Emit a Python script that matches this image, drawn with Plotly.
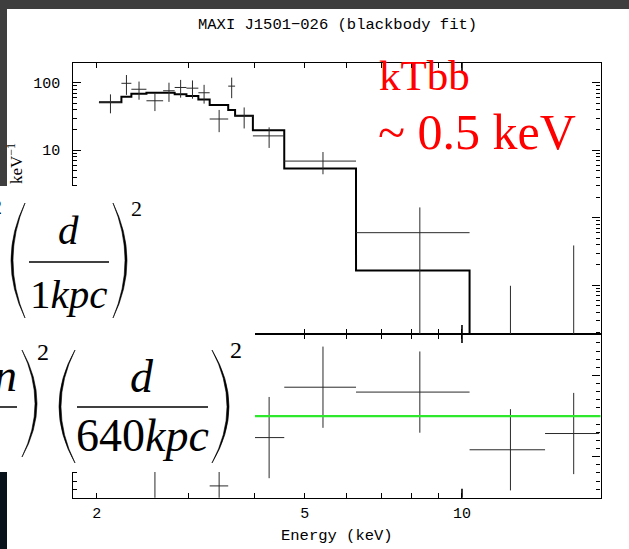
import plotly.graph_objects as go

W, H = 629, 549

title_text = "MAXI J1501\u2212026 (blackbody fit)"
x_label = "Energy (keV)"

# energy bins (keV)
e_lo = [2.02, 2.23, 2.33, 2.49, 2.68, 2.82, 2.97, 3.13, 3.29, 3.57, 3.68, 3.98, 4.57, 6.27, 10.34, 14.42]
e_hi = [2.23, 2.33, 2.49, 2.68, 2.82, 2.97, 3.13, 3.29, 3.57, 3.68, 3.98, 4.57, 6.27, 10.34, 14.42, 18.3]
# counts s^-1 keV^-1 (last two centres lie below the plotted range; estimated)
flux = [51.2, 98, 80, 54, 76, 85, 83, 71, 29, 89, 32, 16.3, 6.9, 0.6, 0.005, 0.01]
flux_err = [16, 32, 24, 16, 24, 25, 25, 22, 10.5, 30, 11, 5.5, 2.5, 0.82, 0.093, 0.378]
model = [51.2, 61.9, 68.6, 71, 71, 67.2, 63.4, 56.6, 46.6, 39.3, 32.3, 19.8, 5.35, 0.165, 0.003, 0.0001]
# residuals (delchi)
delchi = [0.0, 1.13, 0.47, -1.06, 0.21, 0.73, 0.77, 0.65, -1.72, 1.67, 0.0, -0.53, 0.71, 0.59, -0.83, -0.43]
delchi_err = [1, 1, 1, 1, 1, 1, 1, 1, 1, 1, 1, 1, 1, 1, 1, 1]

x_tickvals = [2, 5, 10]
x_ticktext = ["2", "5", "10"]
x_minor = [3, 4, 6, 7, 8, 9]
y_tickvals = [0.1, 1, 10, 100]
y_ticktext = ["0.1", "1", "10", "100"]
y_minor = [k * 10.0 ** p for p in (-2, -1, 0, 1, 2) for k in range(2, 10)]
r_tickvals = [-1, 0, 1]

e_mid = [(a + b) / 2 for a, b in zip(e_lo, e_hi)]
e_half = [(b - a) / 2 for a, b in zip(e_lo, e_hi)]
model_x = e_lo + [e_hi[-1]]
model_y = model + [model[-1]]


def px(x):
    return x / W


def py(y):
    return 1 - y / H


L, R = 73.3, 600.5
T_TOP, MID, B_BOT = 63.0, 334.0, 497.7
INK = "#2a2a2a"
MONO = "Liberation Mono"
SERIF = "Liberation Serif"

fig = go.Figure()
fig.add_trace(go.Scatter(x=model_x, y=model_y, mode="lines",
                         line=dict(shape="hv", color="black", width=2),
                         xaxis="x2", yaxis="y2", showlegend=False, hoverinfo="skip"))
fig.add_trace(go.Scatter(x=e_mid, y=flux, mode="markers",
                         marker=dict(size=1, color="rgba(0,0,0,0)"),
                         error_x=dict(type="data", array=e_half, width=0, thickness=1, color=INK),
                         error_y=dict(type="data", array=flux_err, width=0, thickness=1, color=INK),
                         xaxis="x2", yaxis="y2", showlegend=False, hoverinfo="skip"))
fig.add_trace(go.Scatter(x=e_mid, y=delchi, mode="markers",
                         marker=dict(size=1, color="rgba(0,0,0,0)"),
                         error_x=dict(type="data", array=e_half, width=0, thickness=1, color=INK),
                         error_y=dict(type="data", array=delchi_err, width=0, thickness=1, color=INK),
                         xaxis="x", yaxis="y", showlegend=False, hoverinfo="skip"))

axline = dict(showline=True, linecolor="black", linewidth=1.2, mirror="allticks",
              ticks="inside", tickcolor="black", tickwidth=1.2, showgrid=False, zeroline=False)

xcommon = dict(type="log", range=[0.25625, 1.26506], domain=[px(L), px(R)],
               tickmode="array", tickvals=x_tickvals, ticktext=x_ticktext, ticklen=5,
               minor=dict(tickmode="array", tickvals=x_minor, ticks="inside", ticklen=5,
                          tickwidth=1, tickcolor="black", showgrid=False),
               **axline)

fig.update_layout(
    width=W, height=H, autosize=False,
    margin=dict(l=0, r=0, t=0, b=0, pad=0),
    paper_bgcolor="white", plot_bgcolor="rgba(0,0,0,0)",
    showlegend=False,
    xaxis=dict(anchor="y", tickfont=dict(family=MONO, size=15, color="black"),
               ticklabelstandoff=1, **xcommon),
    xaxis2=dict(anchor="y2", matches="x", showticklabels=False, **xcommon),
    yaxis=dict(anchor="x", domain=[py(B_BOT), py(MID)], range=[-2.01, 2.02],
               tickmode="array", tickvals=r_tickvals, ticklen=8, showticklabels=False,
               minor=dict(dtick=0.2, tick0=0, ticks="inside", ticklen=4, tickwidth=1,
                          tickcolor="black", showgrid=False),
               **axline),
    yaxis2=dict(anchor="x2", type="log", domain=[py(MID), py(T_TOP)], range=[-1.723, 2.292],
                tickmode="array", tickvals=y_tickvals, ticktext=y_ticktext, ticklen=8,
                tickfont=dict(family=MONO, size=15, color="black"), ticklabelstandoff=9,
                minor=dict(tickmode="array", tickvals=y_minor, ticks="inside", ticklen=4,
                           tickwidth=1, tickcolor="black", showgrid=False),
                **axline),
)

shapes = []
# longer tick at 10 keV on each horizontal axis edge
for ya, lo, hi in (("y", 0, 9 / (B_BOT - MID)), ("y", 1 - 9 / (B_BOT - MID), 1),
                   ("y2", 0, 9 / (MID - T_TOP)), ("y2", 1 - 9 / (MID - T_TOP), 1)):
    shapes.append(dict(type="line", xref="x", yref=ya + " domain", x0=10, x1=10, y0=lo, y1=hi,
                       line=dict(color="black", width=1.6), layer="above"))
# zero line of residual panel
shapes.append(dict(type="line", xref="x domain", yref="y", x0=0, x1=1, y0=0, y1=0,
                   line=dict(color="#2ee82e", width=2.2), layer="above"))


def rect(x0, y0, x1, y1, color):
    return dict(type="rect", xref="paper", yref="paper", x0=px(x0), x1=px(x1), y0=py(y1), y1=py(y0),
                fillcolor=color, line=dict(width=0), layer="above")


shapes.append(rect(0, 186, 255, 472, "white"))
shapes.append(rect(0, 0, W, 9, "#3e3e3e"))
shapes.append(rect(0, 0, 7, 186, "#3e3e3e"))
shapes.append(rect(0, 472, 7, H, "#08121b"))


def paren(x_tip, x_bulge, y0, y1, thick=2.0):
    ym = (y0 + y1) / 2
    sign = 1 if x_bulge > x_tip else -1
    xc_out = 2 * x_bulge - x_tip
    xc_in = 2 * (x_bulge - sign * thick) - x_tip
    path = (f"M {px(x_tip)},{py(y0)} Q {px(xc_out)},{py(ym)} {px(x_tip)},{py(y1)} "
            f"Q {px(xc_in)},{py(ym)} {px(x_tip)},{py(y0)} Z")
    return dict(type="path", xref="paper", yref="paper", path=path,
                fillcolor="black", line=dict(color="black", width=0.6), layer="above")


def hbar(x0, x1, y):
    return dict(type="line", xref="paper", yref="paper", x0=px(x0), x1=px(x1), y0=py(y), y1=py(y),
                line=dict(color="black", width=1.5), layer="above")


# formula 1
shapes += [paren(25, 11, 203, 318), paren(113, 127, 203, 318), hbar(29, 109, 262)]
# formula 2
shapes += [hbar(0, 17, 407), paren(22, 37, 350, 457),
           paren(75, 59, 350, 463), paren(212, 229, 350, 463), hbar(77, 208, 407)]

fig.update_layout(shapes=shapes)


def ann(text, x, y, size, family=SERIF, color="black", xanchor="center", angle=0):
    return dict(text=text, x=px(x), y=py(y), xref="paper", yref="paper", showarrow=False,
                xanchor=xanchor, yanchor="middle", textangle=angle,
                font=dict(family=family, size=size, color=color))


anns = [
    ann(title_text, 337, 25, 15.5, family=MONO),
    ann(x_label, 337, 536, 15.5, family=MONO),
    ann("kTbb", 377, 76, 43, color="#ff0000", xanchor="left"),
    ann("~ 0.5 keV", 376, 132, 50, color="#ff0000", xanchor="left"),
    ann("keV<sup>\u22121</sup>", 15, 164, 17, angle=-90),
    # formula 1
    ann("2", 4, 206, 22, color="black", xanchor="right"),
    ann("<i>d</i>", 68, 230, 41),
    ann("1<i>kpc</i>", 68, 294, 41),
    ann("2", 136, 208, 22),
    # formula 2
    ann("<i>n</i>", 19, 375, 46, xanchor="right"),
    ann("2", 43, 352, 24),
    ann("<i>d</i>", 142, 376, 46),
    ann("640<i>kpc</i>", 142, 435, 46),
    ann("2", 236, 350, 24),
]
fig.update_layout(annotations=anns)

fig.write_html("out.html")
